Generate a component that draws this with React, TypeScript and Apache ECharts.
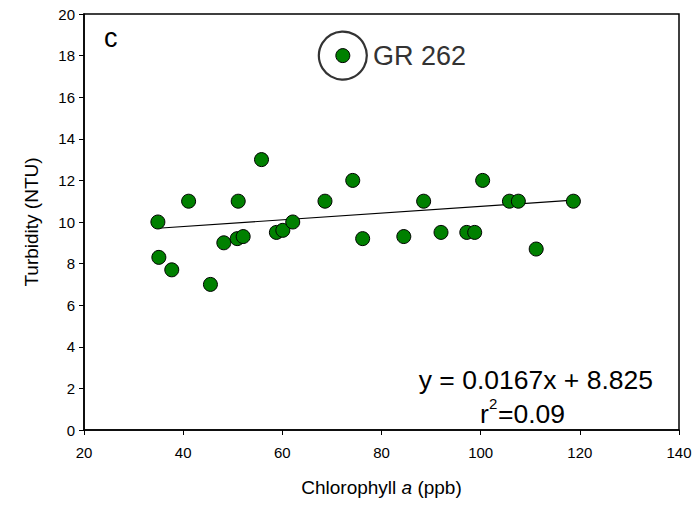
import React, { useEffect, useRef } from "react";
import * as echarts from "echarts";

const chlorophyll = [34.9, 35.1, 37.7, 41.1, 45.5, 48.2, 50.9, 51.1, 52.1, 55.8, 58.8, 60.1, 62.1, 68.6, 74.2, 76.2, 84.5, 88.5, 92.0, 97.2, 98.8, 100.4, 105.8, 107.6, 111.2, 118.7];
const turbidity = [10.0, 8.3, 7.7, 11.0, 7.0, 9.0, 9.2, 11.0, 9.3, 13.0, 9.5, 9.6, 10.0, 11.0, 12.0, 9.2, 9.3, 11.0, 9.5, 9.5, 9.5, 12.0, 11.0, 11.0, 8.7, 11.0];
const outlierX = [72.2];
const outlierY = [18.0];
const outlierLabel = "GR 262";
const trendX = [34.9, 118.7];
const trendY = [9.7, 11.05];
const xTicks = [20, 40, 60, 80, 100, 120, 140];
const yTicks = [0, 2, 4, 6, 8, 10, 12, 14, 16, 18, 20];
const equationText = "y = 0.0167x + 8.825";
const r2Text = "0.09";
const panelLetter = "c";

const FONT = "'Liberation Sans', Arial, sans-serif";

export default function App() {
  const ref = useRef<HTMLDivElement>(null);
  useEffect(() => {
    if (!ref.current) return;
    const chart = echarts.init(ref.current, null, { renderer: "svg" });
    const points = chlorophyll.map((x, i) => [x, turbidity[i]]);
    const outlier = outlierX.map((x, i) => [x, outlierY[i]]);
    const trend = trendX.map((x, i) => [x, trendY[i]]);
    chart.setOption({
      animation: false,
      backgroundColor: "#ffffff",
      textStyle: { fontFamily: FONT },
      grid: {
        left: 84,
        right: 20,
        top: 14,
        bottom: 75,
        show: true,
        borderColor: "#000",
        borderWidth: 1.5,
      },
      xAxis: {
        type: "value",
        min: xTicks[0],
        max: xTicks[xTicks.length - 1],
        interval: 20,
        name: "Chlorophyll {i|a} (ppb)",
        nameLocation: "middle",
        nameGap: 48,
        nameTextStyle: {
          fontSize: 19,
          color: "#000",
          fontFamily: FONT,
          rich: { i: { fontStyle: "italic", fontSize: 19, fontFamily: FONT, color: "#000" } },
        },
        axisLine: { show: true, lineStyle: { color: "#000", width: 1.5 } },
        axisTick: { show: true, inside: false, length: 5, lineStyle: { color: "#000", width: 1 } },
        axisLabel: { fontSize: 15, color: "#000", margin: 15, fontFamily: FONT },
        splitLine: { show: false },
      },
      yAxis: {
        type: "value",
        min: yTicks[0],
        max: yTicks[yTicks.length - 1],
        interval: 2,
        name: "Turbidity (NTU)",
        nameLocation: "middle",
        nameGap: 43,
        nameTextStyle: { fontSize: 19, color: "#000", fontFamily: FONT },
        axisLine: { show: true, lineStyle: { color: "#000", width: 1.5 } },
        axisTick: { show: true, inside: false, length: 5, lineStyle: { color: "#000", width: 1 } },
        axisLabel: { fontSize: 15, color: "#000", margin: 9, fontFamily: FONT },
        splitLine: { show: false },
      },
      series: [
        {
          type: "line",
          data: trend,
          symbol: "none",
          lineStyle: { color: "#000", width: 1.2 },
          z: 2,
        },
        {
          type: "scatter",
          data: points,
          symbol: "circle",
          symbolSize: 14,
          itemStyle: { color: "#008000", borderColor: "#000", borderWidth: 1, opacity: 1 },
          z: 3,
        },
        {
          type: "scatter",
          data: outlier,
          symbol: "circle",
          symbolSize: 14,
          itemStyle: { color: "#008000", borderColor: "#000", borderWidth: 1, opacity: 1 },
          z: 3,
        },
        {
          type: "scatter",
          data: outlier,
          symbol: "circle",
          symbolSize: 48,
          itemStyle: { color: "rgba(0,0,0,0)", borderColor: "#333", borderWidth: 2.2, opacity: 1 },
          label: {
            show: true,
            position: "right",
            distance: 5,
            formatter: outlierLabel,
            fontSize: 27,
            color: "#333",
            fontFamily: FONT,
          },
          z: 2,
        },
      ],
      graphic: [
        {
          type: "text",
          left: 104,
          top: 24,
          style: { text: panelLetter, fill: "#000", font: `27px ${FONT}` },
        },
        {
          type: "text",
          right: 46,
          top: 366,
          style: { text: equationText, fill: "#000", font: `26.5px ${FONT}` },
        },
        {
          type: "group",
          left: 480,
          top: 396,
          children: [
            { type: "text", x: 0, y: 4, style: { text: "r", fill: "#000", font: `26.5px ${FONT}` } },
            { type: "text", x: 9, y: 0, style: { text: "2", fill: "#000", font: `15px ${FONT}` } },
            { type: "text", x: 18, y: 4, style: { text: "=" + r2Text, fill: "#000", font: `26.5px ${FONT}` } },
          ],
        },
      ],
    });
    return () => chart.dispose();
  }, []);
  return (
    <div
      ref={ref}
      style={{ position: "fixed", left: 0, top: 0, width: 699, height: 505 }}
    />
  );
}
